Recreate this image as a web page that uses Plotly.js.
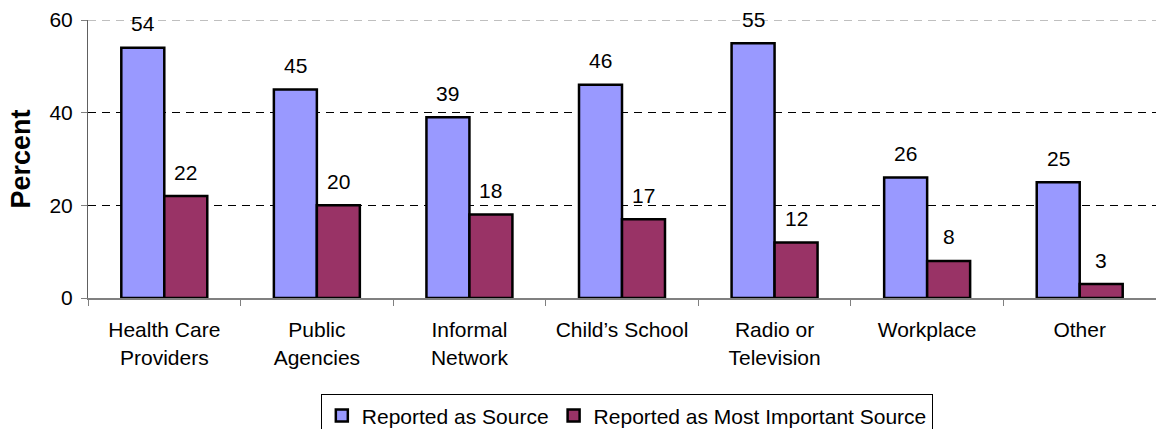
<!DOCTYPE html>
<html>
<head>
<meta charset="utf-8">
<script src="https://cdn.plot.ly/plotly-3.0.1.min.js"></script>
<style>
  html, body { margin: 0; padding: 0; background: #ffffff; }
  #chart { width: 1156px; height: 429px; }
</style>
</head>
<body>
<div id="chart"></div>
<script>
// Information sources, share of respondents (percent)
const categories = [
  "Health Care<br>Providers",
  "Public<br>Agencies",
  "Informal<br>Network",
  "Child\u2019s School",
  "Radio or<br>Television",
  "Workplace",
  "Other"
];
const seriesNames = ["Reported as Source", "Reported as Most Important Source"];
const reportedAsSource = [54, 45, 39, 46, 55, 26, 25];
const mostImportantSource = [22, 20, 18, 17, 12, 8, 3];
const yTickValues = [0, 20, 40, 60];
const yTickLabels = ["0", "20", "40", "60"];

const FONT = "Liberation Sans, Arial, Helvetica, sans-serif";
const BLUE = "#9999FF";
const MAROON = "#993366";
const Y_MAX = yTickValues[yTickValues.length - 1];

const traces = [
  {
    type: "bar",
    name: seriesNames[0],
    x: categories,
    y: reportedAsSource,
    marker: { color: BLUE, line: { color: "#000000", width: 2.5 } },
    hoverinfo: "skip"
  },
  {
    type: "bar",
    name: seriesNames[1],
    x: categories,
    y: mostImportantSource,
    marker: { color: MAROON, line: { color: "#000000", width: 2.5 } },
    hoverinfo: "skip"
  }
];

// Value labels above each bar, offset to the bar's slot inside its group
const BAR_HALF_OFFSET = 21.5;
const annotations = [];
[reportedAsSource, mostImportantSource].forEach(function (vals, s) {
  vals.forEach(function (v, i) {
    annotations.push({
      x: categories[i],
      y: v,
      xref: "x",
      yref: "y",
      text: String(v),
      showarrow: false,
      xshift: s === 0 ? -BAR_HALF_OFFSET : BAR_HALF_OFFSET,
      yshift: 24,
      yanchor: "middle",
      xanchor: "center",
      font: { family: FONT, size: 21, color: "#000000" }
    });
  });
});

const layout = {
  width: 1156,
  height: 429,
  margin: { l: 88, r: 0, t: 20, b: 131, autoexpand: false },
  paper_bgcolor: "#ffffff",
  plot_bgcolor: "#ffffff",
  font: { family: FONT, size: 21, color: "#000000" },
  barmode: "group",
  bargap: 0.4365,
  bargroupgap: 0,
  showlegend: true,
  legend: {
    orientation: "h",
    x: 0.218,
    xanchor: "left",
    y: -0.347,
    yanchor: "top",
    bordercolor: "#000000",
    borderwidth: 1,
    bgcolor: "#ffffff",
    font: { family: FONT, size: 21, color: "#000000" },
    traceorder: "normal"
  },
  xaxis: {
    type: "category",
    tickson: "boundaries",
    ticks: "outside",
    ticklen: 6,
    tickcolor: "#808080",
    showline: true,
    linecolor: "#808080",
    linewidth: 2,
    showgrid: false,
    zeroline: false,
    layer: "below traces",
    ticklabelstandoff: 12,
    tickfont: { family: FONT, size: 21, color: "#000000" },
    fixedrange: true
  },
  yaxis: {
    range: [0, Y_MAX],
    tickvals: yTickValues,
    ticktext: yTickLabels,
    ticks: "outside",
    ticklen: 6,
    tickcolor: "#808080",
    showline: true,
    linecolor: "#606060",
    linewidth: 1,
    showgrid: true,
    gridcolor: "#000000",
    gridwidth: 1,
    griddash: "8px,6px",
    zeroline: false,
    layer: "below traces",
    ticklabelstandoff: 4,
    tickfont: { family: FONT, size: 21, color: "#000000" },
    title: {
      text: "<b>Percent</b>",
      font: { family: FONT, size: 27, color: "#000000" },
      standoff: 10
    },
    fixedrange: true
  },
  // Top gridline at the axis maximum (the edge gridline is not drawn by the axis itself)
  shapes: [{
    type: "line",
    xref: "paper",
    yref: "y",
    x0: 0,
    x1: 1,
    y0: Y_MAX,
    y1: Y_MAX,
    layer: "below",
    line: { color: "#808080", width: 1, dash: "8px,6px" }
  }],
  annotations: annotations
};

Plotly.newPlot("chart", traces, layout, { displayModeBar: false, staticPlot: true });
</script>
</body>
</html>
